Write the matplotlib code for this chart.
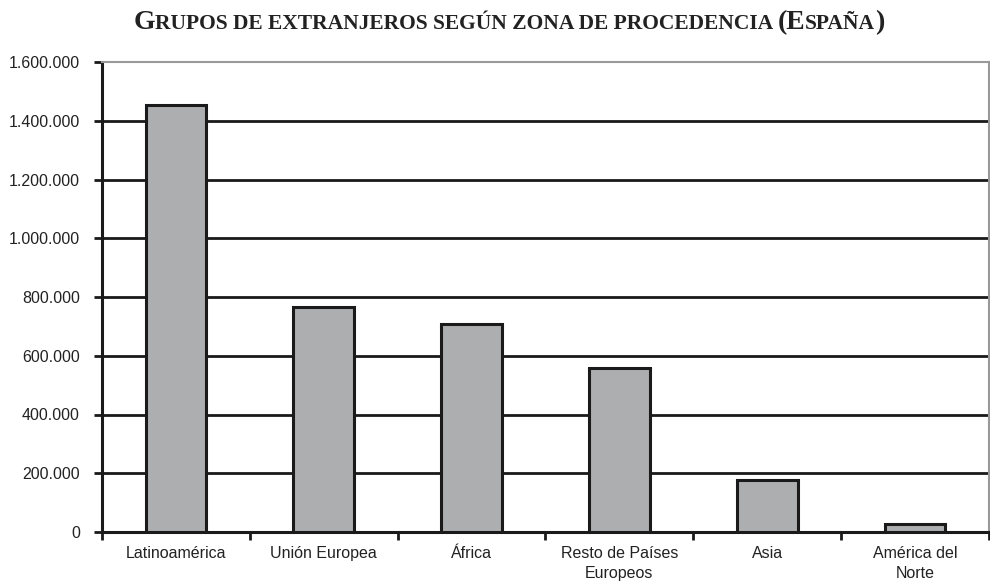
import matplotlib
matplotlib.use("Agg")
import matplotlib.pyplot as plt
import numpy as np

categories = ["Latinoamérica", "Unión Europea", "África", "Resto de Países\nEuropeos", "Asia", "América del\nNorte"]
values = [1455000, 765000, 707000, 558000, 178000, 27000]
yticks = [0, 200000, 400000, 600000, 800000, 1000000, 1200000, 1400000, 1600000]
ytick_labels = ["0", "200.000", "400.000", "600.000", "800.000", "1.000.000", "1.200.000", "1.400.000", "1.600.000"]

fig = plt.figure(figsize=(9.9, 5.84), dpi=100)
ax = fig.add_axes([102/990, 1 - 532/584, (989-102)/990, (532-62)/584])

x = np.arange(len(categories))
ax.bar(x, values, width=0.41, color="#adaeb0", edgecolor="#1a1a1a", linewidth=2.2, zorder=3)

ax.set_xlim(-0.5, len(categories) - 0.5)
ax.set_ylim(0, 1600000)
ax.set_yticks(yticks)
ax.set_yticklabels(ytick_labels, fontsize=11.5, family="Liberation Sans", color="#222222")
for y in yticks[1:-1]:
    ax.axhline(y, color="#1a1a1a", linewidth=2, zorder=1)

ax.set_xticks(np.arange(-0.5, len(categories), 1.0))
ax.set_xticklabels([])
ax.set_xticks(x, minor=True)
ax.set_xticklabels(categories, minor=True, fontsize=11.5, family="Liberation Sans", color="#222222", linespacing=1.45, va="top")
ax.tick_params(axis="x", which="minor", length=0, pad=10)
ax.tick_params(axis="x", which="major", length=6, width=2, color="#1a1a1a", direction="out")
ax.tick_params(axis="y", length=6, width=2, color="#1a1a1a", pad=10)

ax.spines["left"].set_linewidth(2.2)
ax.spines["left"].set_color("#1a1a1a")
ax.spines["bottom"].set_linewidth(2.2)
ax.spines["bottom"].set_color("#1a1a1a")
ax.spines["top"].set_color("#999999")
ax.spines["top"].set_linewidth(1.5)
ax.spines["right"].set_color("#999999")
ax.spines["right"].set_linewidth(1.5)

# Small-caps title
title = "Grupos de extranjeros según zona de procedencia (España)"
big, small = 20.0, 15.5
runs = []
for ch in title:
    if ch.isupper() or ch in "()":
        runs.append((ch, big))
    elif ch.isalpha():
        runs.append((ch.upper(), small))
    else:
        runs.append((ch, small))
merged = []
for ch, s in runs:
    if merged and merged[-1][1] == s:
        merged[-1] = (merged[-1][0] + ch, s)
    else:
        merged.append((ch, s))

fig.canvas.draw()
renderer = fig.canvas.get_renderer()

def advance(txt, s):
    kw = dict(fontsize=s, family="Liberation Serif", fontweight="bold")
    t1 = fig.text(0, 0, "H" + txt + "H", **kw)
    t2 = fig.text(0, 0, "HH", **kw)
    w = t1.get_window_extent(renderer).width - t2.get_window_extent(renderer).width
    t1.remove(); t2.remove()
    return w

widths = [advance(txt, s) for txt, s in merged]
total = sum(widths)
cur = 509 - total / 2
for (txt, s), w in zip(merged, widths):
    fig.text(cur / 990, 1 - 29/584, txt, fontsize=s, family="Liberation Serif", fontweight="bold",
             color="#222222", ha="left", va="baseline")
    cur += w

fig.savefig("out.png", dpi=100)
